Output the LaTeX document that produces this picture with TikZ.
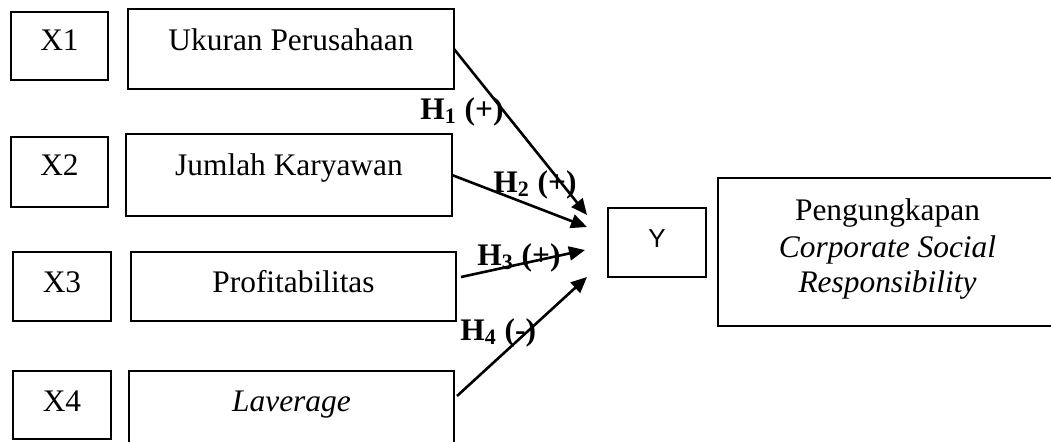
\documentclass[tikz,border=0pt]{standalone}
\usepackage{fontspec}
\setmainfont{Liberation Serif}
\newfontfamily\arialfont{Liberation Sans}
\usetikzlibrary{arrows.meta,calc}

\tikzset{
  box/.style={draw, line width=1.25pt, inner sep=0pt, outer sep=0pt},
  txt/.style={inner sep=0pt, anchor=base, font=\fontsize{15.7}{18}\selectfont},
  hyp/.style={inner sep=0pt, anchor=base west, font=\fontsize{15.7}{18}\selectfont\bfseries},
  link/.style={line width=1.3pt, -{Triangle[length=8pt,width=7pt]}}
}

\begin{document}
\begin{tikzpicture}[x=0.5pt, y=-0.5pt]
  \useasboundingbox (0,0) rectangle (1051,441);
  \clip (0,0) rectangle (1051,441);

  % variable codes
  \node[box, minimum width=48.5pt, minimum height=34pt] (x1) at (59.5,46) {};
  \node[box, minimum width=48.5pt, minimum height=35pt] (x2) at (59.5,172) {};
  \node[box, minimum width=49pt, minimum height=34.5pt] (x3) at (62,286.5) {};
  \node[box, minimum width=49pt, minimum height=34pt] (x4) at (62,405) {};
  \node[txt] (x1t) at (59.5,50) {X1};
  \node[txt] (x2t) at (59.5,175) {X2};
  \node[txt] (x3t) at (62,292) {X3};
  \node[txt] (x4t) at (62,411) {X4};

  % independent variables
  \node[box, minimum width=163pt, minimum height=40pt] (u) at (291,49) {};
  \node[box, minimum width=163pt, minimum height=41pt] (j) at (289,175) {};
  \node[box, minimum width=162.5pt, minimum height=34.5pt] (p) at (293.5,286.5) {};
  \node[box, minimum width=162.5pt, minimum height=37pt] (l) at (291.5,408) {};
  \node[txt] (ut) at (291,50) {Ukuran Perusahaan};
  \node[txt] (jt) at (289,175) {Jumlah Karyawan};
  \node[txt] (pt) at (293.5,292) {Profitabilitas};
  \node[txt] (lt) at (291.5,411) {\itshape Laverage};

  % dependent variable
  \node[box, minimum width=49pt, minimum height=34.5pt] (y) at (657,242.5) {};
  \node[txt, font=\fontsize{13}{15}\selectfont\arialfont] (yt) at (657,247) {Y};
  \node[box, minimum width=176pt, minimum height=74pt] (csr) at (894,252) {};
  \node[txt] (c1) at (887.5,220) {Pengungkapan};
  \node[txt] (c2) at (887.5,257) {\itshape Corporate Social};
  \node[txt] (c3) at (887.5,292) {\itshape Responsibility};

  % hypotheses
  \draw[link] (u.east) -- ($(y.west)+(-21,-27.5)$);
  \draw[link] (j.east) -- ($(y.west)+(-21,-15.5)$);
  \draw[link] ($(p.east)+(5,-9.5)$) -- ($(y.west)+(-23,7.5)$);
  \draw[link] ($(l.north east)+(3,25)$) -- ($(y.west)+(-21,34.5)$);

  \node[hyp] (h1) at (420,119) {H\textsubscript{1} (+)};
  \node[hyp] (h2) at (493,192) {H\textsubscript{2} (+)};
  \node[hyp] (h3) at (477,265) {H\textsubscript{3} (+)};
  \node[hyp] (h4) at (460,340) {H\textsubscript{4} (-)};
\end{tikzpicture}
\end{document}
